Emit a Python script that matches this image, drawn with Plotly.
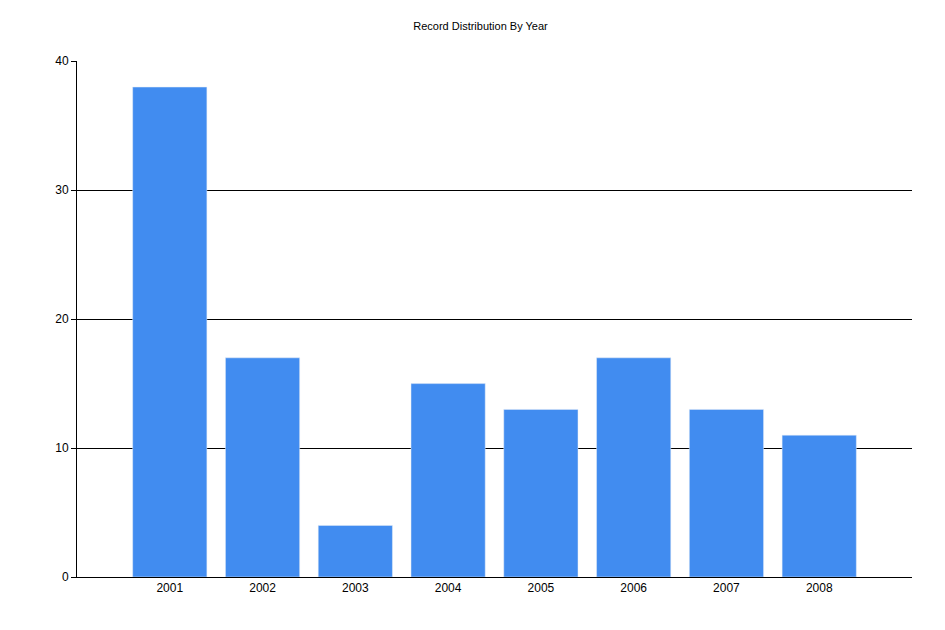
import plotly.graph_objects as go

years = ["2001", "2002", "2003", "2004", "2005", "2006", "2007", "2008"]
counts = [38, 17, 4, 15, 13, 17, 13, 11]

fig = go.Figure(go.Bar(x=list(range(len(years))), y=counts, marker_color="#418CF0",
                       width=0.8))
fig.update_layout(
    width=945, height=630, plot_bgcolor="white", paper_bgcolor="white",
    margin=dict(l=69, r=41, t=53, b=61), showlegend=False,
    font=dict(family="Liberation Sans, Arial", size=12, color="black"),
    title=dict(text="Record Distribution By Year", x=0.5, xanchor="center",
               y=0.978, font=dict(size=11)),
    bargap=0.2,
)
fig.update_xaxes(range=[-1, 8], tickvals=list(range(len(years))), ticktext=years,
                 showgrid=False, showline=True, linecolor="black", ticks="",
                 zeroline=False, mirror=False)
fig.update_yaxes(range=[0, 40.02], dtick=10, showgrid=True, gridcolor="black",
                 showline=True, linecolor="black", ticks="outside", ticklen=5,
                 tickcolor="black", zeroline=False)
fig.write_html("out.html")
